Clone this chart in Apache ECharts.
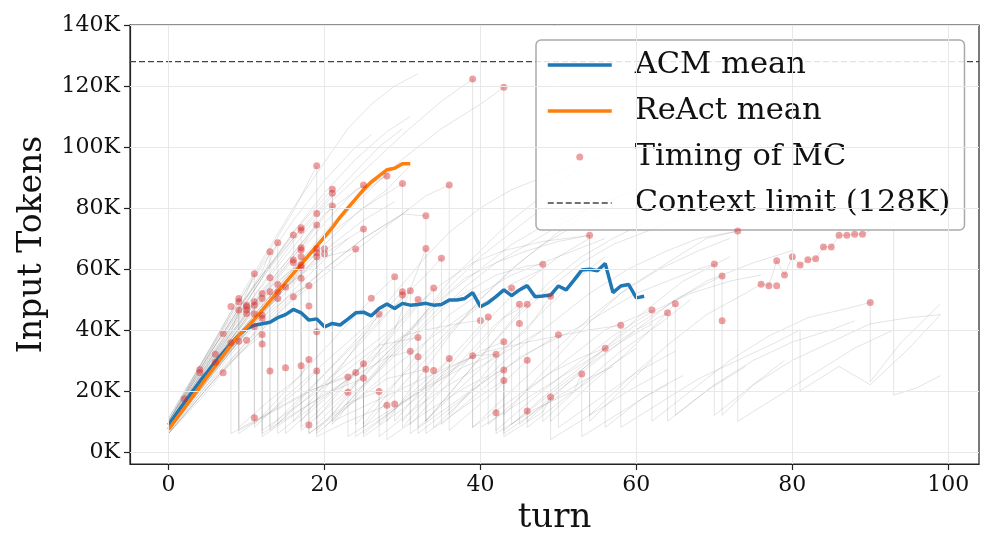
<!DOCTYPE html>
<html><head><meta charset="utf-8">
<script src="https://cdn.jsdelivr.net/npm/echarts@6/dist/echarts.min.js"></script>
<style>html,body{margin:0;padding:0;background:#fff}#c{width:996px;height:554px}</style>
</head><body><div id="c"></div>
<script>
// ---- data (tokens in thousands) ----
const acmMean = [8.8,12.5,16,19.5,23,26.2,29.5,32.5,35.5,38.3,40.5,41.5,42,42.5,44,45,46.7,45.6,43.2,43.6,41,42.1,41.6,43.5,45.6,45.8,44.6,47,48.5,47,48.7,48.1,48.3,48.7,48.1,48.3,49.8,49.8,50.3,52.2,47.6,48.9,50.9,53.1,51.2,53.1,54.5,50.9,51.1,51.4,54.4,53.1,56.3,59.6,59.9,59.4,61.8,52.2,54.4,54.9,50.5,51];
const reactMean = [7.3,10.8,14.3,17.8,21.3,24.8,28.2,31.6,35,38.2,40.8,43.5,46.5,49.5,52.5,55.5,58.5,61.5,64.5,67.5,70.5,73.5,77,80,83,86,88.5,90.5,92.5,93,94.5,94.5];
const mcTurns  = [2,4,4,6,6,7,7,8,8,9,9,9,9,10,10,10,10,10,11,11,11,11,11,11,12,12,12,12,12,12,13,13,13,13,14,14,14,14,15,15,16,16,16,16,17,17,17,17,17,17,17,17,17,18,18,18,18,19,19,19,19,19,19,19,19,20,20,21,21,21,23,23,24,24,25,25,25,25,26,27,27,28,28,29,29,30,30,30,31,31,32,32,32,33,33,33,34,34,35,36,36,39,39,40,41,42,42,43,43,43,43,44,45,45,46,46,46,48,49,49,50,53,54,56,58,62,64,65,70,71,71,73,76,77,78,78,79,80,81,82,83,84,85,86,87,88,89,90];
const mcTokens = [17.4,27,26,32,29.4,38.8,25.9,47.7,35.8,50.3,49.2,46.5,36.3,48.1,47.6,46.5,45.4,36.6,58.4,49.2,48.1,45.2,41,11.2,51.9,50.3,44.8,43.8,38.5,35.4,65.6,57.1,52.5,26.5,68.6,54.9,52.5,50.3,54.1,27.6,71.1,62.9,62.1,50.9,73.5,72.7,66.9,66.2,64,61.3,60.5,56.9,28.2,54.5,47.8,30.3,8.8,93.8,78.2,74.4,66.7,65.3,64,39.4,26.5,66.6,64.9,86.1,84.8,80.6,24.5,19.5,66.5,26,87.5,73.1,28.9,24.1,50.4,45.1,19.8,90.5,15.3,57.4,15.7,88,52.5,51.4,52.8,33,50,37.5,31.2,77.4,66.7,27.1,53.7,26.7,63.5,87.5,30.6,122.3,31.5,43.1,44.2,32,12.8,119.6,36.1,26.8,23.4,53.7,48.4,42.1,48.4,30,13.4,61.5,51,18,38.4,25.5,71,34,41.5,46.5,45.6,48.6,61.6,57.7,43,72.4,55,54.5,54.5,62.7,58,64,61.3,63,63.3,67.2,67.2,71,71,71.4,71.4,49];
const contextLimit = 128;
const xTicks = [0,20,40,60,80,100];
const yTicks = [0,20,40,60,80,100,120,140];

// individual runs: [turn, tokens(K)]
const acmRuns = [
 [[0,9],[2,17],[4,24],[6,30],[8,35.8],[8,6],[13,13],[18,20],[23,24.5],[23,5],[28,13],[33,21],[38,28],[42,32],[42,6],[47,14],[52,20],[53,25.5],[53,5],[58,13],[63,21],[66,25]],
 [[0,8],[2,16],[4,23],[6,31],[8,39],[9,46.5],[9,7],[14,14],[19,21],[24,26],[24,5],[29,14],[34,23],[39,31.5],[39,8],[44,17],[49,26],[53,31],[56,34],[56,8],[61,18],[64,22]],
 [[0,10],[3,22],[6,33],[9,42],[11,49.2],[11,8],[15,18],[19,27],[23,36],[27,45.1],[27,9],[31,19],[35,28],[36,30.6],[36,7],[41,18],[46,30],[46,8],[51,18],[56,27],[60,34]],
 [[0,7],[3,17],[6,27],[9,36.3],[9,6],[13,13],[17,21],[19,26.5],[19,5],[23,10],[28,15.3],[28,4],[33,13],[38,21],[41,25]],
 [[0,9],[3,21],[6,32],[9,42],[12,51.9],[12,6],[17,14],[21,20],[25,24.1],[25,5],[30,14],[35,24],[40,33],[43,36.1],[43,7],[48,17],[53,27],[58,36],[62,42]],
 [[0,8],[3,19],[6,29],[9,38],[12,44.8],[12,7],[17,16],[22,25],[27,35],[32,37.5],[32,6],[37,16],[42,26],[43,26.8],[43,6],[48,15],[53,23],[57,28]],
 [[0,11],[3,24],[6,37],[9,50.3],[9,8],[13,17],[17,25],[18,30.3],[18,6],[23,16],[27,19.8],[27,5],[32,15],[36,22],[40,28],[44,34],[48,40]],
 [[0,6],[3,15],[6,24],[9,32],[12,38.5],[12,5],[16,12],[20,19],[24,25],[28,31],[31,33],[31,6],[36,15],[41,24],[46,32],[50,38.4],[50,8],[55,17],[60,26],[65,33]],
 [[0,9],[3,22],[6,35],[9,46],[11,58.4],[11,9],[15,20],[19,31],[23,42],[26,50],[29,57.4],[29,10],[33,22],[37,33],[41,44.2],[41,9],[46,20],[51,30],[56,40],[62,46.5],[62,10],[67,20],[72,30],[77,38],[82,44],[87,47],[90,49],[90,23],[94,36],[99,48.5]],
 [[0,8],[3,19],[6,30],[9,40],[12,50],[13,52.5],[13,7],[17,16],[21,25],[25,33],[29,41],[32,50],[32,8],[37,20],[42,32],[46,40],[49,51],[49,10],[54,22],[59,33],[63,43],[65,48.6],[65,12],[70,22],[75,30],[80,36],[85,40],[88,43]],
 [[0,10],[3,23],[6,35],[9,47],[12,59],[13,65.6],[13,8],[17,18],[21,28],[25,38],[29,48],[33,58],[35,63.5],[35,9],[40,20],[45,31],[48,35],[52,40],[56,46],[60,52],[64,56],[68,60],[70,61.6],[70,12],[75,22],[80,30],[85,36],[90,42],[95,44],[99,45]],
 [[0,7],[4,21],[8,34],[12,46],[14,50.3],[14,6],[18,14],[22,22],[26,30],[30,38],[33,40],[37,42],[40,43.1],[40,8],[45,16],[50,24],[55,32],[60,40],[64,45.6],[64,10],[69,20],[74,28]],
 [[0,9],[4,25],[8,41],[12,57],[14,68.6],[14,9],[18,20],[22,31],[26,42],[30,52.5],[30,8],[34,20],[38,31],[42,42],[45,48.4],[45,9],[50,20],[55,30],[60,40],[65,50],[71,57.7],[71,12],[75,22],[79,30]],
 [[0,8],[4,22],[8,36],[12,48],[15,54.1],[15,6],[19,15],[23,24],[27,33],[31,45],[34,53.7],[34,8],[39,20],[44,32],[49,42],[54,52],[59,60],[64,66],[68,70],[73,72.4],[73,10],[78,18],[83,26],[88,34],[93,40]],
 [[0,10],[4,27],[8,43],[12,58],[16,71.1],[16,10],[20,22],[24,34],[28,45],[31,52.8],[31,9],[35,20],[39,32],[43,44],[46,48.4],[46,10],[51,22],[56,34],[61,46],[66,56],[72,64]],
 [[0,7],[4,20],[8,33],[12,45],[16,56],[17,60.5],[17,7],[22,18],[27,30],[32,42],[36,52],[40,60],[44,68],[48,74],[52,78],[56,82],[60,86],[64,88]],
 [[0,9],[4,26],[8,42],[12,57],[16,70],[17,73.5],[17,10],[21,24],[25,38],[29,52],[33,64],[36,72],[40,80],[44,86],[48,90],[52,94]],
 [[0,8],[4,21],[8,34],[12,44],[16,52],[18,54.5],[18,6],[23,15],[28,24],[33,27.1],[33,6],[38,15],[43,23.4],[43,5],[48,13],[49,18],[49,4],[54,12],[59,20],[64,27]],
 [[0,10],[4,28],[8,45],[12,62],[16,79],[19,93.8],[19,11],[23,23],[27,35],[31,46],[35,55],[39,62],[43,66],[48,69],[54,71],[54,12],[59,24],[64,35],[69,45],[74,52],[76,55],[77,54.5],[78,62.7],[79,58],[80,64],[81,61.3],[82,63],[83,63.3],[84,67.2],[85,67.2],[86,71],[87,71],[88,71.4],[89,71.4],[93,76],[93,18.6],[96,21],[99,25]],
 [[0,6],[4,19],[8,32],[12,44],[16,55],[19,64],[19,6],[24,17],[29,28],[34,38],[39,47],[44,53.7],[44,9],[49,20],[54,30],[59,40],[64,48],[69,56],[75,62],[80,66]],
 [[0,9],[4,25],[8,40],[12,53],[16,65],[19,74.4],[19,9],[24,22],[29,35],[34,48],[38,57],[42,62],[46,66],[50,69],[54,71],[54,10],[58,20],[62,30]],
 [[0,8],[4,23],[8,38],[12,52],[16,60],[20,66.6],[20,8],[24,19],[28,30],[32,40],[35,48],[38,52],[42,58],[46,61],[48,61.5],[48,10],[53,22],[58,33],[63,42],[67,50]],
 [[0,11],[4,28],[8,44],[12,58],[16,72],[21,86.1],[21,12],[25,26],[29,40],[33,66.7],[33,10],[37,22],[41,34],[45,46],[49,56],[53,64],[57,70],[61,75]],
 [[0,7],[4,20],[8,33],[12,46],[16,58],[19,66.7],[19,7],[23,18],[26,24],[30,34],[34,44],[38,54],[42,62],[46,68],[50,74],[54,80],[58,84]],
 [[0,9],[4,24],[8,37],[12,49],[16,57],[17,61.3],[17,8],[21,18],[25,28.9],[25,6],[30,16],[35,26],[39,31.5],[42,32],[42,7],[47,18],[52,28],[57,38],[62,46],[67,52],[72,56],[76,58]],
 [[0,9],[5,28],[10,46],[15,62],[20,78],[25,87.5],[25,9],[29,22],[33,36],[36,45],[40,52],[44,58],[48,62],[52,66],[56,70]],
 [[0,8],[5,26],[10,44],[15,60],[20,75],[24,86],[28,90.5],[28,10],[32,24],[36,38],[40,50],[44,60],[48,68],[52,74],[56,78]],
 [[0,10],[5,30],[10,48],[15,64],[20,80],[25,92],[30,104],[35,115],[39,122.3],[39,8],[44,20],[49,32],[54,44],[59,54],[64,62],[69,70],[73,72.4]],
 [[0,8],[5,25],[10,42],[15,57],[20,71],[25,84],[30,96],[35,106],[40,114],[43,119.6],[43,12],[48,26],[53,40],[58,52],[63,60],[68,66],[72,70]],
 [[0,9],[4,24],[8,38],[12,52],[16,64],[21,80.6],[21,10],[25,22],[29,34],[33,46],[36,56],[40,66],[44,76],[48,84],[52,92],[56,98]],
 [[0,10],[4,27],[8,43],[12,58],[16,70],[21,84.8],[21,9],[26,24],[30,36],[33,46],[36,54],[40,64],[44,72],[48,80]],
 [[0,9],[5,27],[10,44],[15,58],[20,70],[25,80],[30,88],[30,10],[34,22],[38,34],[42,46],[46,56],[50,64],[54,70]],
 [[0,8],[5,24],[10,40],[15,54],[20,65],[25,73.1],[25,8],[30,22],[35,36],[40,50],[45,62],[50,72],[55,80]],
 [[0,9],[5,25],[10,40],[15,54],[20,64],[24,66.5],[24,9],[28,20],[32,30],[36,40],[40,48],[44,55],[48,60]],
 [[0,7],[5,22],[10,36],[15,49],[20,60],[25,70],[30,78],[33,77.4],[33,10],[37,22],[41,34],[45,45],[49,54],[53,62],[57,68],[61,72],[65,76],[70,80]],
 [[0,6],[5,21],[10,35],[15,48],[20,60],[25,70],[30,78],[33,84],[36,87.5],[36,12],[40,24],[44,36],[48,46],[52,56],[56,64]],
 [[21,10],[26,16],[31,22],[36,28],[41,33],[46,36],[50,38],[54,40],[58,41.5],[58,8],[63,16],[68,24],[73,30],[78,36],[81,40],[81,20],[86,28],[90,22],[95,34],[99,45]]
];
const reactRuns = [
 [[0,7],[4,21],[8,35],[12,48],[16,60],[20,72],[24,83],[28,91],[30,95]],
 [[0,8],[4,24],[8,40],[12,55],[16,69],[20,81],[24,92],[27,100],[30,106]],
 [[0,6],[4,18],[8,30],[12,42],[16,53],[20,63],[23,70]],
 [[0,9],[4,27],[8,45],[12,61],[16,76],[20,89],[24,100],[26,104]],
 [[0,7],[5,24],[10,40],[15,54],[20,66],[25,76],[29,82]],
 [[0,8],[4,22],[8,37],[12,51],[16,64],[18,70]],
 [[0,10],[4,28],[8,46],[12,63],[16,80],[20,95],[23,106],[26,114],[29,120],[32,124]],
 [[0,6],[4,17],[8,29],[12,40],[16,50],[20,58],[24,66],[28,74],[31,80]],
 [[0,9],[4,25],[8,41],[12,57],[16,72],[20,85],[24,96],[28,105],[31,110]],
 [[0,7],[4,20],[8,33],[12,45],[16,57],[20,68],[24,78],[28,86],[31,94]]
];

// ---- chart ----
const FONT = 'DejaVu Serif';
const chart = echarts.init(document.getElementById('c'), null, {renderer:'canvas'});
const series = [];
series.push({
  type:'line', data:[], silent:true, z:0,
  markLine:{silent:true, symbol:['none','none'], label:{show:false}, animation:false,
    lineStyle:{color:'#e8e8e8', width:1, type:'solid'},
    data: xTicks.map(v=>({xAxis:v})).concat(yTicks.map(v=>({yAxis:v})))}
});
acmRuns.concat(reactRuns).forEach(run=>{
  series.push({type:'line', data:run, symbol:'none', silent:true, z:1,
    lineStyle:{color:'#7f7f7f', width:0.9, opacity:0.24}});
});
series.push({name:'Context limit (128K)', type:'line', symbol:'none', z:2,
  data:[[-4.95,contextLimit],[103.95,contextLimit]],
  itemStyle:{color:'#444'}, lineStyle:{color:'#444', width:1.4, type:[6,3]}});
series.push({name:'ACM mean', type:'line', symbol:'none', z:3,
  data:acmMean.map((v,i)=>[i,v]), itemStyle:{color:'#1f77b4'}, lineStyle:{color:'#1f77b4', width:3.5}});
series.push({name:'ReAct mean', type:'line', symbol:'none', z:3,
  data:reactMean.map((v,i)=>[i,v]), itemStyle:{color:'#ff7f0e'}, lineStyle:{color:'#ff7f0e', width:3.5}});
series.push({name:'Timing of MC', type:'scatter', z:4, symbol:'circle', symbolSize:7, symbolKeepAspect:true,
  data:mcTurns.map((t,i)=>[t,mcTokens[i]]), itemStyle:{color:'rgba(214,39,40,0.55)'}});

chart.setOption({
  animation:false,
  backgroundColor:'#fff',
  grid:{left:130, right:17, top:25, bottom:90, show:true, borderColor:'#222', borderWidth:1.2, containLabel:false},
  xAxis:{type:'value', min:-4.95, max:103.95,
    name:'turn', nameLocation:'middle', nameGap:37,
    nameTextStyle:{fontFamily:FONT, fontSize:34, color:'#111', verticalAlign:'top'},
    axisLine:{show:true, onZero:false, lineStyle:{color:'#222', width:1.2}},
    axisTick:{show:true, length:6, customValues:xTicks, lineStyle:{color:'#222', width:1.2}},
    axisLabel:{customValues:xTicks, fontFamily:FONT, fontSize:22, color:'#111', margin:10},
    splitLine:{show:false}},
  yAxis:{type:'value', min:-4, max:140,
    name:'Input Tokens', nameLocation:'middle', nameGap:81,
    nameTextStyle:{fontFamily:FONT, fontSize:33, color:'#111'},
    axisLine:{show:true, onZero:false, lineStyle:{color:'#222', width:1.2}},
    axisTick:{show:true, length:6, customValues:yTicks, lineStyle:{color:'#222', width:1.2}},
    axisLabel:{customValues:yTicks, formatter:v=>v+'K', fontFamily:FONT, fontSize:22, color:'#111', margin:10},
    splitLine:{show:false}},
  legend:{orient:'vertical', left:536, top:40, itemWidth:64, itemHeight:7, itemGap:10,
    padding:[7,14,9,10], backgroundColor:'rgba(255,255,255,0.85)', borderColor:'#aaa', borderWidth:1.5, borderRadius:5,
    textStyle:{fontFamily:FONT, fontSize:30.5, color:'#111', lineHeight:36, padding:[0,0,0,18]},
    data:[{name:'ACM mean', itemStyle:{opacity:0}, lineStyle:{width:3.5}},
          {name:'ReAct mean', itemStyle:{opacity:0}, lineStyle:{width:3.5}},
          {name:'Timing of MC', icon:'circle'},
          {name:'Context limit (128K)', itemStyle:{opacity:0}, lineStyle:{width:1.4}}]},
  series: series
});
</script></body></html>
